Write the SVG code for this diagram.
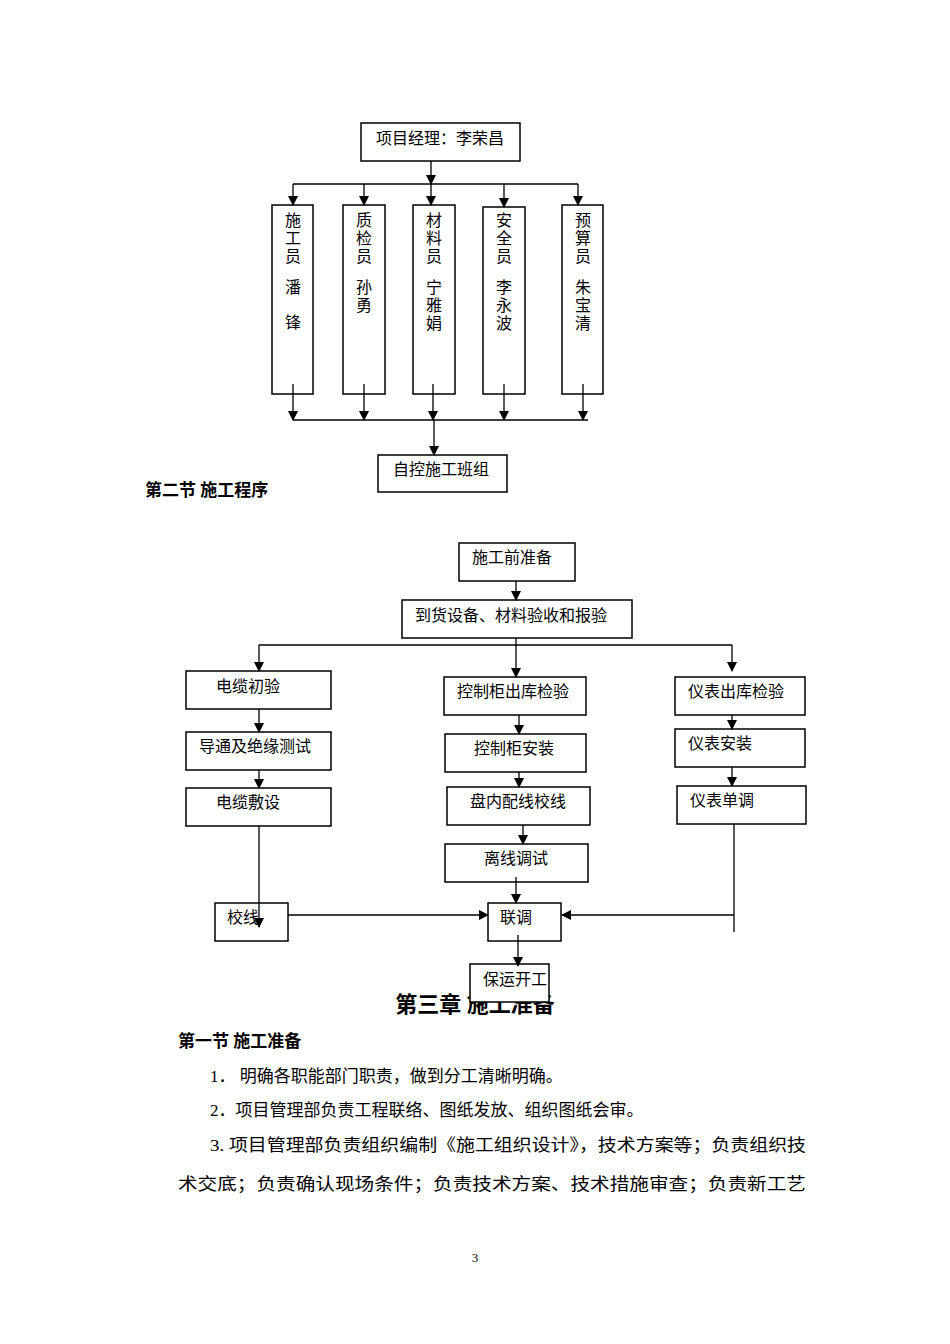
<svg xmlns="http://www.w3.org/2000/svg" width="950" height="1344" viewBox="0 0 950 1344">
<style>
.b{fill:#fff;stroke:#000;stroke-width:1.5}
.l{stroke:#000;stroke-width:1.3;fill:none}
.a{stroke:#000;stroke-width:1.3;fill:none;marker-end:url(#ar)}
text{font-family:"Liberation Serif","Noto Sans CJK SC",serif;fill:#000}
.t{font-size:16px}
.h{font-size:17px;font-weight:bold}
.p{font-size:17px}
</style>
<defs><marker id="ar" markerWidth="10" markerHeight="10" refX="9" refY="5" orient="auto" markerUnits="userSpaceOnUse"><path d="M0,0 L10,5 L0,10 z" fill="#000"/></marker></defs>
<rect width="950" height="1344" fill="#fff"/>
<g id="pm"><rect class="b" x="361" y="123" width="159" height="38"/><text class="t" x="440" y="144" text-anchor="middle">项目经理：李荣昌</text></g>
<g id="n1"><rect class="b" x="272" y="205" width="41" height="189"/><text class="t" x="293" text-anchor="middle"><tspan x="293" y="226">施</tspan><tspan x="293" y="244">工</tspan><tspan x="293" y="262">员</tspan><tspan x="293" y="293">潘</tspan><tspan x="293" y="328">锋</tspan></text></g>
<g id="n2"><rect class="b" x="343" y="205" width="42" height="189"/><text class="t" text-anchor="middle"><tspan x="364" y="226">质</tspan><tspan x="364" y="244">检</tspan><tspan x="364" y="262">员</tspan><tspan x="364" y="293">孙</tspan><tspan x="364" y="311">勇</tspan></text></g>
<g id="n3"><rect class="b" x="413" y="205" width="42" height="189"/><text class="t" text-anchor="middle"><tspan x="434" y="226">材</tspan><tspan x="434" y="244">料</tspan><tspan x="434" y="262">员</tspan><tspan x="434" y="293">宁</tspan><tspan x="434" y="311">雅</tspan><tspan x="434" y="329">娟</tspan></text></g>
<g id="n4"><rect class="b" x="483" y="207" width="42" height="187"/><text class="t" text-anchor="middle"><tspan x="504" y="226">安</tspan><tspan x="504" y="244">全</tspan><tspan x="504" y="262">员</tspan><tspan x="504" y="293">李</tspan><tspan x="504" y="311">永</tspan><tspan x="504" y="329">波</tspan></text></g>
<g id="n5"><rect class="b" x="562" y="205" width="41" height="189"/><text class="t" text-anchor="middle"><tspan x="583" y="226">预</tspan><tspan x="583" y="244">算</tspan><tspan x="583" y="262">员</tspan><tspan x="583" y="293">朱</tspan><tspan x="583" y="311">宝</tspan><tspan x="583" y="329">清</tspan></text></g>
<g id="team"><rect class="b" x="378" y="455" width="129" height="37"/><text class="t" x="441" y="475" text-anchor="middle">自控施工班组</text></g>
<text class="h" x="145" y="496">第二节  施工程序</text>
<g id="s1"><rect class="b" x="459" y="543" width="116" height="38"/><text class="t" x="472" y="563">施工前准备</text></g>
<g id="s2"><rect class="b" x="402" y="600" width="230" height="38"/><text class="t" x="415" y="621">到货设备、材料验收和报验</text></g>
<g id="c1"><rect class="b" x="186" y="671" width="145" height="38"/><text class="t" x="216" y="692">电缆初验</text></g>
<g id="c2"><rect class="b" x="186" y="732" width="145" height="38"/><text class="t" x="199" y="752">导通及绝缘测试</text></g>
<g id="c3"><rect class="b" x="186" y="788" width="145" height="38"/><text class="t" x="216" y="808">电缆敷设</text></g>
<g id="c4"><rect class="b" x="215" y="903" width="73" height="38"/><text class="t" x="227" y="923">校线</text></g>
<g id="m1"><rect class="b" x="444" y="677" width="142" height="38"/><text class="t" x="457" y="697">控制柜出库检验</text></g>
<g id="m2"><rect class="b" x="445" y="734" width="141" height="38"/><text class="t" x="474" y="754">控制柜安装</text></g>
<g id="m3"><rect class="b" x="447" y="787" width="143" height="38"/><text class="t" x="470" y="807">盘内配线校线</text></g>
<g id="m4"><rect class="b" x="445" y="844" width="143" height="38"/><text class="t" x="484" y="864">离线调试</text></g>
<g id="m5"><rect class="b" x="488" y="903" width="73" height="38"/><text class="t" x="500" y="923">联调</text></g>
<g id="r1"><rect class="b" x="675" y="677" width="130" height="38"/><text class="t" x="688" y="697">仪表出库检验</text></g>
<g id="r2"><rect class="b" x="675" y="729" width="130" height="38"/><text class="t" x="688" y="749">仪表安装</text></g>
<g id="r3"><rect class="b" x="677" y="786" width="129" height="38"/><text class="t" x="690" y="806">仪表单调</text></g>
<text x="475" y="1012" font-size="22" font-weight="bold" text-anchor="middle">第三章  施工准备</text>
<g id="m6"><rect class="b" x="470" y="964" width="79" height="38"/><text class="t" x="483" y="985">保运开工</text></g>
<g id="connectors">
<path class="a" d="M431,161 V184"/>
<path class="l" d="M293,184 H578"/>
<path class="a" d="M293,184 V205"/><path class="a" d="M364,184 V205"/><path class="a" d="M431,184 V205"/><path class="a" d="M504,184 V207"/><path class="a" d="M578,184 V205"/>
<path class="a" d="M293,384 V420"/><path class="a" d="M364,384 V420"/><path class="a" d="M433,384 V420"/><path class="a" d="M504,384 V420"/><path class="a" d="M583,384 V420"/>
<path class="l" d="M293,420 H588"/>
<path class="a" d="M434,420 V455"/>
<path class="a" d="M516,581 V600"/>
<path class="a" d="M516,638 V677"/>
<path class="l" d="M259,645 H732"/>
<path class="a" d="M259,645 V671"/><path class="a" d="M732,645 V671"/>
<path class="a" d="M259,709 V732"/><path class="a" d="M259,770 V788"/>
<path class="a" d="M259,826 V927"/>
<path class="a" d="M519,715 V734"/><path class="a" d="M519,772 V787"/><path class="a" d="M523,825 V844"/><path class="a" d="M516,877 V903"/>
<path class="a" d="M732,715 V729"/><path class="a" d="M732,767 V786"/>
<path class="l" d="M734,824 V932"/>
<path class="a" d="M734,915 H562"/>
<path class="a" d="M288,915 H488"/>
<path class="a" d="M518,935 V966"/>
</g>
<text class="h" x="178" y="1047">第一节  施工准备</text>
<text class="p" x="210" y="1082">1．  明确各职能部门职责，做到分工清晰明确。</text>
<text class="p" x="210" y="1116">2．项目管理部负责工程联络、图纸发放、组织图纸会审。</text>
<text class="p" x="210" y="1151" textLength="596" lengthAdjust="spacingAndGlyphs">3. 项目管理部负责组织编制《施工组织设计》，技术方案等；负责组织技</text>
<text class="p" x="178" y="1190" textLength="628" lengthAdjust="spacingAndGlyphs">术交底；负责确认现场条件；负责技术方案、技术措施审查；负责新工艺</text>
<text x="475" y="1262" font-size="13" text-anchor="middle">3</text>
</svg>
